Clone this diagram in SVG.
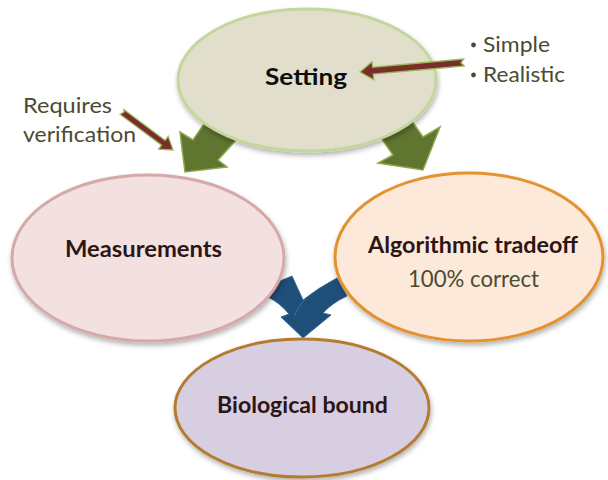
<svg xmlns="http://www.w3.org/2000/svg" width="608" height="480" viewBox="0 0 608 480">
  <style>
    .node { stroke-width: 3; filter: url(#soft); }
    .label { font-family: Lato, "Open Sans", "Liberation Sans", sans-serif; font-size: 23px; }
    .bold { font-weight: bold; fill: #2d1515; }
    .plain { fill: #4b4b33; }
    .side { font-family: Lato, "Open Sans", "Liberation Sans", sans-serif; font-size: 22px; fill: #4b4b33; }
    .green { fill: #5f7530; stroke: #8ca84c; stroke-width: 1.5; stroke-linejoin: miter; }
    .red { fill: #7a2d2b; stroke: #9bbb59; stroke-width: 1.3; }
    .blue { fill: #1f4e79; stroke: #3a6a9c; stroke-width: 1; }
  </style>
  <defs>
    <filter id="soft" x="-10%" y="-10%" width="125%" height="130%">
      <feDropShadow dx="1" dy="3" stdDeviation="2.5" flood-color="#000" flood-opacity="0.3"/>
    </filter>
  </defs>

  <rect width="608" height="480" fill="#ffffff"/>

  <!-- block arrows between the nodes -->
  <g id="connectors">
    <polygon class="green" points="215,108 193,140 180,132 185,172 227,167 218,160 247,128"/>
    <polygon class="green" points="370,122 393,155 378,163 423,170 440,127 423,137 400,104"/>
    <path class="blue" d="M268,286 L292,276 Q298,289 303,300 Q318,288 337,278 L347,296 Q332,303 323,313 L331,315 L303,338 L281,317 L289,314 Q280,303 268,297 Z"/>
    <path d="M294,316 Q299,305 306,298" fill="none" stroke="#3f6fa2" stroke-width="1"/>
  </g>

  <g id="setting">
    <ellipse class="node" cx="307" cy="80" rx="129" ry="71" fill="#e1dfcb" stroke="#c3d69b"/>
    <text class="label" x="306" y="85" text-anchor="middle" font-size="26" font-weight="bold" fill="#0d0d0d" textLength="82" lengthAdjust="spacingAndGlyphs">Setting</text>
  </g>

  <g id="measurements">
    <ellipse class="node" cx="148" cy="258" rx="136" ry="83" fill="#f2e1e0" stroke="#d6a8a8"/>
    <text class="label bold" x="143.5" y="257" text-anchor="middle" textLength="157" lengthAdjust="spacingAndGlyphs">Measurements</text>
  </g>

  <g id="algorithmic">
    <ellipse class="node" cx="469" cy="257" rx="134" ry="84" fill="#fde9d9" stroke="#e3922f"/>
    <text class="label bold" x="473" y="253" text-anchor="middle" textLength="210" lengthAdjust="spacingAndGlyphs">Algorithmic tradeoff</text>
    <text class="label plain" x="473.5" y="287" text-anchor="middle" textLength="131" lengthAdjust="spacingAndGlyphs">100% correct</text>
  </g>

  <g id="biological">
    <ellipse class="node" cx="302" cy="408" rx="127" ry="69" fill="#d8cee1" stroke="#b47c30"/>
    <text class="label bold" x="302.5" y="413" text-anchor="middle" textLength="171" lengthAdjust="spacingAndGlyphs">Biological bound</text>
  </g>

  <!-- small pointer arrows for the side notes -->
  <g id="pointers">
    <polygon class="red" points="463.7,59 372.6,67.2 372,61.7 360,72 373.8,79.7 373.2,74.2 464.3,66 461,62.6"/>
    <polygon class="red" points="123.8,109.6 165.2,140.4 168.2,136.4 173,150 158.6,149.2 161.6,145.2 120.2,114.4 124,112"/>
  </g>

  <g id="note-setting">
    <circle cx="473.5" cy="45" r="2.4" fill="#4b4b33"/>
    <text class="side" x="483" y="52" textLength="67" lengthAdjust="spacingAndGlyphs">Simple</text>
    <circle cx="473.5" cy="75" r="2.4" fill="#4b4b33"/>
    <text class="side" x="483" y="82" textLength="82" lengthAdjust="spacingAndGlyphs">Realistic</text>
  </g>

  <g id="note-measurements">
    <text class="side" x="23" y="113" textLength="89" lengthAdjust="spacingAndGlyphs">Requires</text>
    <text class="side" x="23" y="142" textLength="113" lengthAdjust="spacingAndGlyphs">verification</text>
  </g>
</svg>
